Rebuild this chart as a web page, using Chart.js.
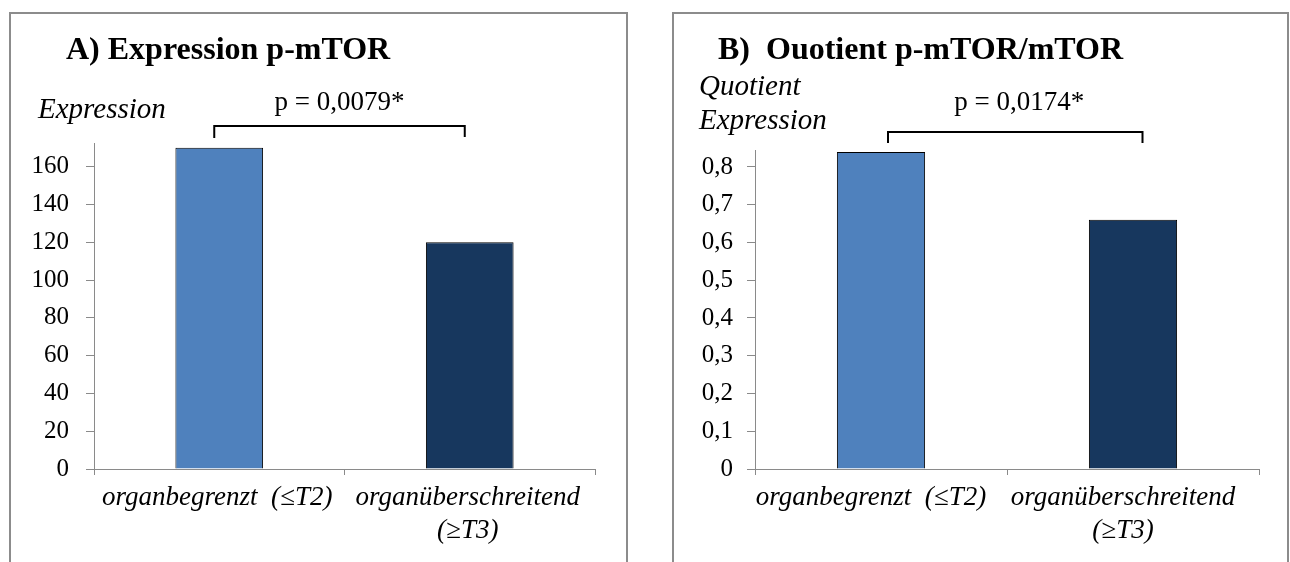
<!DOCTYPE html>
<html>
<head>
<meta charset="utf-8">
<script src="https://cdn.jsdelivr.net/npm/chart.js@4"></script>
<style>
  html, body { margin: 0; padding: 0; background: #fff; }
  body { width: 1290px; height: 562px; position: relative; overflow: hidden; }
  .frame { position: absolute; top: 12px; height: 560px; border: 2px solid #8c8c8c; border-bottom: none; box-sizing: border-box; }
  .panel { position: absolute; top: 0; width: 645px; height: 562px; }
  canvas { display: block; }
</style>
</head>
<body>
<div class="frame" style="left:9px;width:619px"></div>
<div class="frame" style="left:672px;width:617px"></div>
<div class="panel" style="left:0"><canvas id="chartA" width="645" height="562"></canvas></div>
<div class="panel" style="left:645px"><canvas id="chartB" width="645" height="562"></canvas></div>
<script>
// Tumour stage groups
const categories = ['organbegrenzt  (≤T2)', ['organüberschreitend', '(≥T3)']];

// A) p-mTOR expression per group
const expressionValues = [170, 120];
const expressionTicks = [0, 20, 40, 60, 80, 100, 120, 140, 160];
const expressionTickLabels = ['0', '20', '40', '60', '80', '100', '120', '140', '160'];

// B) p-mTOR/mTOR quotient per group
const quotientValues = [0.84, 0.66];
const quotientTicks = [0, 0.1, 0.2, 0.3, 0.4, 0.5, 0.6, 0.7, 0.8];
const quotientTickLabels = ['0', '0,1', '0,2', '0,3', '0,4', '0,5', '0,6', '0,7', '0,8'];

const barColors = ['#4F81BD', '#17375E'];
const serif = '"Liberation Serif", "Times New Roman", serif';
const axisGray = '#8a8a8a';

// Panel headings, axis caption, significance bracket and p-value
const panelAnnotations = {
  id: 'panelAnnotations',
  afterDraw(chart, args, o) {
    const ctx = chart.ctx;
    const xs = chart.scales.x;
    ctx.save();
    ctx.fillStyle = '#000';
    ctx.textBaseline = 'alphabetic';
    ctx.textAlign = 'left';
    ctx.font = 'bold 32px ' + serif;
    ctx.fillText(o.title, o.titleX, o.titleY);
    ctx.font = 'italic 29px ' + serif;
    o.yTitle.forEach((t, i) => ctx.fillText(t, o.yTitleX, o.yTitleY + i * 34));
    const x1 = xs.getPixelForValue(0) + o.bracketOffsets[0];
    const x2 = xs.getPixelForValue(1) + o.bracketOffsets[1];
    ctx.strokeStyle = '#000';
    ctx.lineWidth = 2;
    ctx.beginPath();
    ctx.moveTo(x1, o.bracketEnds[0]);
    ctx.lineTo(x1, o.bracketY);
    ctx.lineTo(x2, o.bracketY);
    ctx.lineTo(x2, o.bracketEnds[1]);
    ctx.stroke();
    ctx.font = '27px ' + serif;
    ctx.textAlign = 'center';
    ctx.fillText(o.pText, (x1 + x2) / 2 + o.pShift, o.pY);
    ctx.restore();
  }
};

function makeChart(id, values, tickVals, tickLabels, yMax, geo, ann) {
  return new Chart(document.getElementById(id), {
    type: 'bar',
    data: {
      labels: categories,
      datasets: [{
        data: values,
        backgroundColor: barColors,
        borderColor: '#000',
        borderWidth: 1,
        barPercentage: 0.35,
        categoryPercentage: 1
      }]
    },
    plugins: [panelAnnotations],
    options: {
      responsive: false,
      animation: false,
      events: [],
      layout: { padding: { top: geo.top, right: geo.right, bottom: 0, left: 0 } },
      plugins: {
        legend: { display: false },
        tooltip: { enabled: false },
        panelAnnotations: ann
      },
      scales: {
        x: {
          grid: { display: true, drawOnChartArea: false, drawTicks: true, tickLength: 6, color: axisGray, offset: true },
          border: { display: true, color: axisGray, width: 1 },
          ticks: {
            color: '#000',
            font: { family: serif, size: 27, style: 'italic', lineHeight: 1.22 },
            padding: 6, labelOffset: geo.labelShift,
            maxRotation: 0, minRotation: 0, autoSkip: false
          },
          afterFit: s => { s.height = 562 - geo.bottom; }
        },
        y: {
          min: 0,
          max: yMax,
          grid: { drawOnChartArea: false, drawTicks: true, tickLength: 8, color: axisGray },
          border: { display: true, color: axisGray, width: 1 },
          ticks: {
            color: '#000',
            font: { family: serif, size: 25 },
            padding: geo.tickPad,
            callback: v => tickLabels[tickVals.indexOf(v)]
          },
          afterBuildTicks: s => { s.ticks = tickVals.map(v => ({ value: v })); },
          afterFit: s => { s.width = geo.left; }
        }
      }
    }
  });
}

makeChart('chartA', expressionValues, expressionTicks, expressionTickLabels, 172.5,
  { top: 143, right: 50, bottom: 469, left: 94, tickPad: 17, labelShift: -2 },
  {
    title: 'A) Expression p-mTOR', titleX: 66, titleY: 59,
    yTitle: ['Expression'], yTitleX: 38, yTitleY: 118,
    bracketY: 126, bracketEnds: [138, 137], bracketOffsets: [-5, -5],
    pText: 'p = 0,0079*', pY: 110, pShift: 0
  });

makeChart('chartB', quotientValues, quotientTicks, quotientTickLabels, 0.845,
  { top: 150, right: 31, bottom: 469, left: 110, tickPad: 14, labelShift: -10 },
  {
    title: 'B)  Ouotient p-mTOR/mTOR', titleX: 73, titleY: 59,
    yTitle: ['Quotient', 'Expression'], yTitleX: 54, yTitleY: 95,
    bracketY: 132, bracketEnds: [143, 143], bracketOffsets: [7, 9.5],
    pText: 'p = 0,0174*', pY: 110, pShift: 4
  });
</script>
</body>
</html>
